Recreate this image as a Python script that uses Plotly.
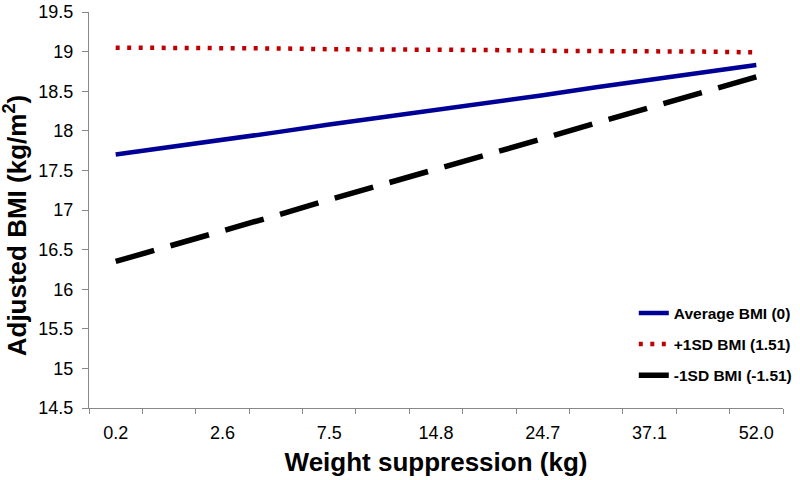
import plotly.graph_objects as go

# 13 ordered categories of weight suppression (only every other one is labelled)
cat_index = list(range(13))
tick_positions = [0, 2, 4, 6, 8, 10, 12]
tick_labels = ["0.2", "2.6", "7.5", "14.8", "24.7", "37.1", "52.0"]

avg_bmi = [17.70, 17.79, 17.89, 17.98, 18.08, 18.17, 18.27, 18.36, 18.45, 18.55, 18.64, 18.74, 18.83]
plus_sd_bmi = [19.05, 19.05, 19.04, 19.04, 19.03, 19.03, 19.02, 19.02, 19.01, 19.01, 19.00, 19.00, 18.99]
minus_sd_bmi = [16.35, 16.54, 16.74, 16.93, 17.13, 17.32, 17.52, 17.71, 17.90, 18.10, 18.29, 18.49, 18.68]

y_ticks = [14.5, 15, 15.5, 16, 16.5, 17, 17.5, 18, 18.5, 19, 19.5]

fig = go.Figure()
fig.add_trace(go.Scatter(x=cat_index, y=avg_bmi, mode="lines", name="Average BMI (0)",
                         legendgroup="a", line=dict(color="#000096", width=4.5)))
fig.add_trace(go.Scatter(x=cat_index, y=plus_sd_bmi, mode="lines", name="+1SD BMI (1.51)",
                         legendgroup="b", line=dict(color="#C00000", width=4.5, dash="4px,7.5px")))
fig.add_trace(go.Scatter(x=cat_index, y=minus_sd_bmi, mode="lines", name="-1SD BMI (-1.51)",
                         legendgroup="c", line=dict(color="black", width=5.5, dash="40px,17px")))

fig.update_layout(
    width=800, height=480,
    margin=dict(l=89, r=3, t=12, b=72),
    plot_bgcolor="white", paper_bgcolor="white",
    font=dict(family="Liberation Sans, Arial, sans-serif", color="black"),
    legend=dict(x=0.785, y=0.282, xanchor="left", yanchor="top",
                bgcolor="rgba(0,0,0,0)", tracegroupgap=8,
                font=dict(size=15.5, family="Liberation Sans, Arial, sans-serif", weight="bold")),
    xaxis=dict(
        automargin=False,
        range=[-0.5, 12.5], tickmode="array", tickvals=tick_positions, ticktext=tick_labels,
        ticks="", showgrid=False, zeroline=False,
        showline=True, linecolor="#888888", linewidth=1,
        tickfont=dict(size=18), ticklabelstandoff=8,
        minor=dict(tickmode="array", tickvals=[i + 0.5 for i in range(-1, 13)],
                   ticks="outside", ticklen=5, tickcolor="#888888", showgrid=False),
        title=dict(text="<b>Weight suppression (kg)</b>", font=dict(size=26), standoff=11),
    ),
    yaxis=dict(
        automargin=False,
        range=[14.5, 19.5], tickmode="array", tickvals=y_ticks,
        ticktext=[("%g" % v) + "\u00a0" for v in y_ticks],
        ticks="outside", ticklen=6, tickcolor="#888888",
        showgrid=False, zeroline=False,
        showline=True, linecolor="#888888", linewidth=1,
        tickfont=dict(size=18),
    ),
    annotations=[dict(
        text="<b>Adjusted BMI (kg/m<sup>2</sup>)</b>", textangle=-90,
        xref="paper", yref="paper", x=-0.106, y=0.46,
        xanchor="center", yanchor="middle", showarrow=False,
        font=dict(size=26),
    )],
)

fig.write_html("out.html", config={"displayModeBar": False},
               post_script="document.body.style.margin='0';")
